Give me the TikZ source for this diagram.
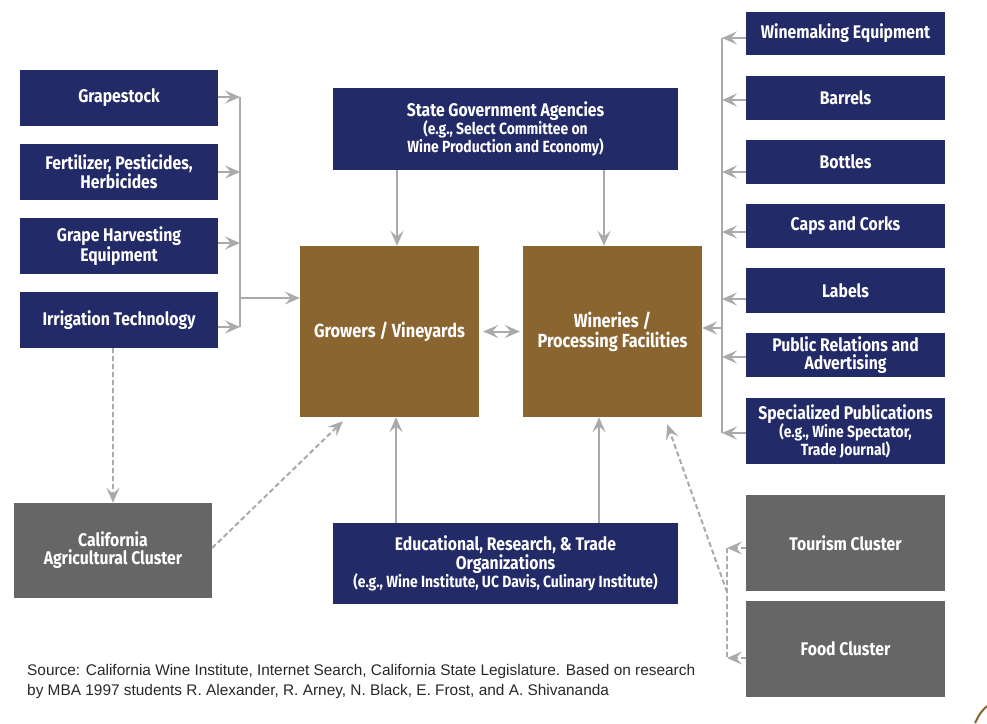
\documentclass[tikz,border=0pt]{standalone}
\usepackage{fontspec}
\setmainfont{Liberation Sans}
\newfontfamily\boxfont[FakeStretch=0.86]{Fira Sans}
\usetikzlibrary{arrows.meta}
\definecolor{navy}{RGB}{35,42,104}
\definecolor{wbrown}{RGB}{138,101,48}
\definecolor{cgray}{RGB}{102,102,102}
\definecolor{agray}{RGB}{170,170,170}
\definecolor{ftext}{RGB}{40,40,40}
\newcommand{\subsz}{\fontsize{16.2}{18}\selectfont}
\tikzset{
  bx/.style={fill=navy, text=white, inner sep=2pt, align=center, font=\boxfont\bfseries\fontsize{18.3}{18}\selectfont},
  bbx/.style={fill=wbrown, text=white, align=center, minimum width=179pt, minimum height=171pt, font=\boxfont\bfseries\fontsize{19}{20}\selectfont},
  gbx/.style={fill=cgray, text=white, align=center, minimum width=199pt, font=\boxfont\bfseries\fontsize{18.3}{18}\selectfont},
  lbx/.style={bx, minimum width=198pt, minimum height=56pt},
  rbx/.style={bx, minimum width=199pt, minimum height=44pt},
  tip/.style={-{Stealth[length=15pt,width=13pt,inset=6pt]}},
  ln/.style={draw=agray, line width=2pt},
  arr/.style={ln, tip},
  darr/.style={ln, tip, dash pattern=on 5pt off 3pt},
  dln/.style={ln, dash pattern=on 5pt off 3pt},
}
\begin{document}
\begin{tikzpicture}[x=1pt,y=-1pt]
\useasboundingbox[fill=white] (0,0) rectangle (987,723);
% left column
\node[lbx] (grape) at (119,98) {Grapestock};
\node[lbx] (fert) at (119,172) {Fertilizer, Pesticides,\\Herbicides};
\node[lbx] (harv) at (119,246) {Grape Harvesting\\Equipment};
\node[lbx] (irr) at (119,320) {Irrigation Technology};
% center
\node[bx, minimum width=345pt, minimum height=82pt] (state) at (505.5,129) {State Government Agencies\\{\subsz (e.g., Select Committee on}\\{\subsz Wine Production and Economy)}};
\node[bbx] (grow) at (389.5,331.5) {Growers / Vineyards};
\node[bbx] (win) at (612.5,331.5) {Wineries /\\Processing Facilities};
\node[bx, minimum width=345pt, minimum height=81pt] (edu) at (505.5,563.5) {Educational, Research, \& Trade\\Organizations\\{\subsz (e.g., Wine Institute, UC Davis, Culinary Institute)}};
% right column
\node[rbx, minimum height=43pt] (weq) at (845.5,33.5) {Winemaking Equipment};
\node[rbx] (barr) at (845.5,98) {Barrels};
\node[rbx] (bott) at (845.5,162) {Bottles};
\node[rbx] (caps) at (845.5,226) {Caps and Corks};
\node[rbx, minimum height=45pt] (lab) at (845.5,290.5) {Labels};
\node[rbx] (pr) at (845.5,355) {Public Relations and\\Advertising};
\node[rbx, minimum height=66pt] (spec) at (845.5,431) {Specialized Publications\\{\subsz (e.g., Wine Spectator,}\\{\subsz Trade Journal)}};
% clusters
\node[gbx, minimum height=96pt] (tour) at (845.5,543) {Tourism Cluster};
\node[gbx, minimum height=96pt] (food) at (845.5,649) {Food Cluster};
\node[gbx, minimum width=198pt, minimum height=95pt] (cal) at (113,550.5) {California\\Agricultural Cluster};
% coordinates
\coordinate (lbus) at (240,0);
\coordinate (lj) at (240,298);
\coordinate (rbus) at (722,0);
\coordinate (rj) at (722,328);
\coordinate (cbus) at (727,0);
\coordinate (cj) at (727,592);
\coordinate (s1) at (397,170);
\coordinate (s2) at (604,170);
\coordinate (e1) at (396,523);
\coordinate (e2) at (599,523);
% left connectors
\draw[ln] ([yshift=1pt]grape.east -| lbus) -- ([yshift=-7pt]irr.east -| lbus);
\draw[arr] ([yshift=1pt]grape.east) -- ([yshift=1pt]grape.east -| lbus);
\draw[arr] (fert.east) -- (fert.east -| lbus);
\draw[arr] ([yshift=3pt]harv.east) -- ([yshift=3pt]harv.east -| lbus);
\draw[arr] ([yshift=-7pt]irr.east) -- ([yshift=-7pt]irr.east -| lbus);
\draw[arr] (lj) -- (lj -| grow.west);
% right connectors
\draw[ln] ([yshift=-4.5pt]weq.west -| rbus) -- ([yshift=-2pt]spec.west -| rbus);
\draw[arr] ([yshift=-4.5pt]weq.west) -- ([yshift=-4.5pt]weq.west -| rbus);
\draw[arr] ([yshift=-2pt]barr.west) -- ([yshift=-2pt]barr.west -| rbus);
\draw[arr] ([yshift=-10pt]bott.west) -- ([yshift=-10pt]bott.west -| rbus);
\draw[arr] ([yshift=-6pt]caps.west) -- ([yshift=-6pt]caps.west -| rbus);
\draw[arr] ([yshift=-8.5pt]lab.west) -- ([yshift=-8.5pt]lab.west -| rbus);
\draw[arr] ([yshift=-2pt]pr.west) -- ([yshift=-2pt]pr.west -| rbus);
\draw[arr] ([yshift=-2pt]spec.west) -- ([yshift=-2pt]spec.west -| rbus);
\draw[arr] (rj) -- (rj -| win.east);
% state and edu
\draw[arr] (s1) -- (s1 |- grow.north);
\draw[arr] (s2) -- (s2 |- win.north);
\draw[arr] (e1) -- (e1 |- grow.south);
\draw[arr] (e2) -- (e2 |- win.south);
% growers <-> wineries
\draw[ln, {Stealth[length=15pt,width=13pt,inset=6pt]}-{Stealth[length=15pt,width=13pt,inset=6pt]}, shorten <=4pt, shorten >=3pt] (grow.east) -- (win.west);
% dashed
\draw[darr] (irr.south -| cal.north) -- (cal.north);
\draw[darr] ([yshift=2.5pt]cal.east) -- ([xshift=43pt,yshift=-4pt]grow.south west);
\draw[dln] ([yshift=-5pt]tour.west -| cbus) -- ([yshift=-9pt]food.west -| cbus);
\draw[darr] ([yshift=-5pt]tour.west) -- ([yshift=-5pt]tour.west -| cbus);
\draw[darr] ([yshift=-9pt]food.west) -- ([yshift=-9pt]food.west -| cbus);
\draw[darr] (cj) -- ([xshift=-35pt,yshift=-7pt]win.south east);
% footnote
\node[anchor=west, align=left, text=ftext, font=\fontsize{15.4}{20}\selectfont, inner sep=0pt] (src) at (27,682) {Source: California Wine Institute, Internet Search, California State Legislature. Based on research\\by MBA 1997 students R. Alexander, R. Arney, N. Black, E. Frost, and A. Shivananda};
% corner arc
\draw[wbrown, line width=2pt] (975,723) .. controls (980,713) .. (987,706);
\end{tikzpicture}
\end{document}
